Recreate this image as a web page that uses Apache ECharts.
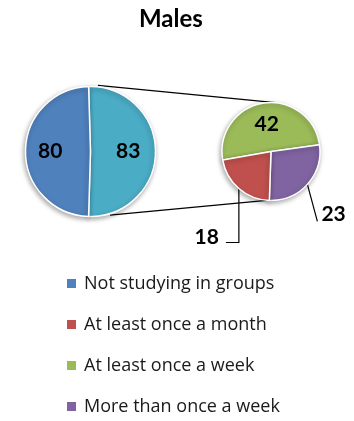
<!DOCTYPE html>
<html>
<head>
<meta charset="utf-8">
<script src="https://cdn.jsdelivr.net/npm/echarts@6/dist/echarts.min.js"></script>
<style>
  html, body { margin: 0; padding: 0; background: #fff; }
  #chart { width: 354px; height: 421px; }
</style>
</head>
<body>
<div id="chart"></div>
<script>
// Categories shown in the legend (in legend order)
const legendNames = ['Not studying in groups', 'At least once a month', 'At least once a week', 'More than once a week'];
// Main pie: students not in groups vs. the combined "studying in groups" wedge
const notStudyingValue = 80;
const groupWedgeName = 'Studying in groups';
// Breakdown pie (drawn clockwise from the left)
const groupNames = ['At least once a week', 'More than once a week', 'At least once a month'];
const groupValues = [42, 23, 18];

const COLORS = {
  'Not studying in groups': '#4F81BD',
  'Studying in groups': '#4BACC6',
  'At least once a month': '#C0504D',
  'At least once a week': '#9BBB59',
  'More than once a week': '#8064A2'
};

const groupTotal = groupValues.reduce((a, b) => a + b, 0);

// Pie geometry (pixels)
const mainPie = { cx: 90.5, cy: 151.5, r: 65 };
const subPie = { cx: 271, cy: 151.5, r: 49 };
// The grouped wedge is centred on 3 o'clock
const mainStart = 90 + (groupTotal / (groupTotal + notStudyingValue) * 360 - 180) / 2;
const subStart = 190;

function polar(c, deg, rr) {
  const a = deg * Math.PI / 180;
  return [c.cx + rr * Math.cos(a), c.cy - rr * Math.sin(a)];
}

// Mid angle of each slice of the breakdown pie
const subMid = [];
(function () {
  let acc = subStart;
  groupValues.forEach(v => {
    const span = v / groupTotal * 360;
    subMid.push(acc - span / 2);
    acc -= span;
  });
})();

const sliceStyle = {
  borderColor: '#ffffff',
  borderWidth: 1.5,
  shadowBlur: 5,
  shadowColor: 'rgba(0,0,0,0.35)',
  shadowOffsetX: -1,
  shadowOffsetY: 2
};

const labelFont = { fontFamily: 'Lato', fontWeight: 'bold', fontSize: 21, color: '#000' };

// Connector lines between the grouped wedge and the breakdown pie
const topA = polar(mainPie, 83.5, mainPie.r + 1.5);
const botA = polar(mainPie, -73, mainPie.r + 1.5);
const topB = polar(subPie, 85, subPie.r);
const botB = polar(subPie, 265, subPie.r);

const chart = echarts.init(document.getElementById('chart'), null, { renderer: 'canvas' });

chart.setOption({
  animation: false,
  title: {
    text: 'Males',
    left: 139,
    top: 7.5,
    padding: 0,
    textStyle: { fontFamily: 'Lato', fontWeight: 'bold', fontSize: 24, color: '#000' }
  },
  legend: {
    orient: 'vertical',
    left: 67,
    top: 274.5,
    height: 170,
    padding: 0,
    data: legendNames,
    icon: 'rect',
    itemWidth: 9,
    itemHeight: 9,
    itemGap: 23,
    selectedMode: false,
    itemStyle: { borderWidth: 0, shadowBlur: 0, shadowOffsetX: 0, shadowOffsetY: 0 },
    textStyle: { fontFamily: 'Open Sans', fontSize: 18, color: '#1a1a1a', lineHeight: 18, padding: [0, 0, 0, 3] }
  },
  graphic: [
    { type: 'line', z: 0, shape: { x1: topA[0], y1: topA[1], x2: topB[0], y2: topB[1] }, style: { stroke: '#000', lineWidth: 1.2 } },
    { type: 'line', z: 0, shape: { x1: botA[0], y1: botA[1], x2: botB[0], y2: botB[1] }, style: { stroke: '#000', lineWidth: 1.2 } }
  ],
  series: [
    {
      type: 'pie',
      center: [mainPie.cx, mainPie.cy],
      radius: [0, mainPie.r],
      startAngle: mainStart,
      clockwise: true,
      avoidLabelOverlap: false,
      emphasis: { disabled: true },
      itemStyle: sliceStyle,
      label: Object.assign({ show: true, position: 'inside', formatter: '{c}' }, labelFont),
      labelLine: { show: false },
      labelLayout: function (p) {
        // grouped wedge label sits at ~0.58r, the other at ~0.62r
        const side = p.dataIndex === 0 ? 1 : -1;
        const k = p.dataIndex === 0 ? 0.58 : 0.62;
        return { x: mainPie.cx + side * k * mainPie.r, y: mainPie.cy, align: 'center', verticalAlign: 'middle' };
      },
      data: [
        { name: groupWedgeName, value: groupTotal, itemStyle: { color: COLORS[groupWedgeName] } },
        { name: legendNames[0], value: notStudyingValue, itemStyle: { color: COLORS[legendNames[0]] } }
      ]
    },
    {
      type: 'pie',
      center: [subPie.cx, subPie.cy],
      radius: [0, subPie.r],
      startAngle: subStart,
      clockwise: true,
      avoidLabelOverlap: false,
      emphasis: { disabled: true },
      itemStyle: sliceStyle,
      label: Object.assign({ show: true, position: 'outside', formatter: '{c}' }, labelFont),
      labelLine: { show: true, lineStyle: { color: '#000', width: 1.2 } },
      labelLayout: function (p) {
        const name = groupNames[p.dataIndex];
        const e = polar(subPie, subMid[p.dataIndex], subPie.r);
        if (name === 'At least once a month') {
          const corner = [e[0], e[1] + 54];
          const end = [e[0] - 13, e[1] + 54];
          return { x: end[0] - 7, y: end[1] - 5, align: 'right', verticalAlign: 'middle', labelLinePoints: [e, corner, end] };
        }
        if (name === 'More than once a week') {
          const end = [e[0] + 10, e[1] + 37];
          return { x: end[0] + 4, y: end[1] - 7, align: 'left', verticalAlign: 'middle', labelLinePoints: [e, end, end] };
        }
        return {};
      },
      data: groupNames.map((n, i) => ({
        name: n,
        value: groupValues[i],
        itemStyle: { color: COLORS[n] },
        label: { position: n === 'At least once a week' ? 'inside' : 'outside' }
      }))
    }
  ]
});
</script>
</body>
</html>
